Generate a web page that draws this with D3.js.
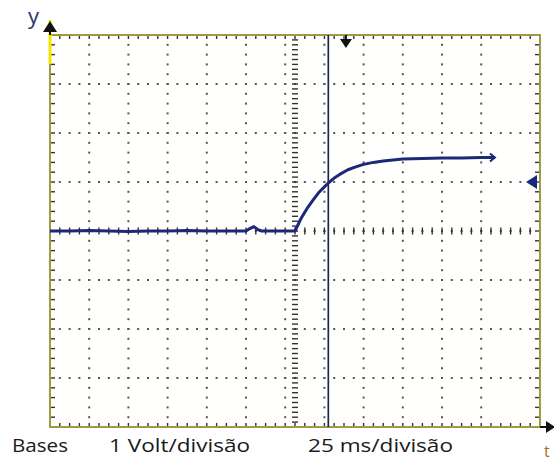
<!DOCTYPE html>
<html>
<head>
    <style>
        body { margin: 0; background: #fff; }
        .lbl { font-family: "Open Sans", sans-serif; font-size: 18px; fill: #1a1a1a; }
    </style>
    <script src="https://d3js.org/d3.v7.min.js"></script>
</head>
<body>
    <svg width="554" height="461"></svg>
    <script>
        // trace (ms, volts)
        var timeMs = [0, 10, 20, 30, 40, 50, 60, 70, 80, 90, 100, 102, 104, 106, 108, 115, 125,
                      128, 131, 134, 137, 140, 142, 145, 148, 152, 156, 160, 165, 170, 175, 180,
                      190, 200, 210, 220, 227];
        var volts = [4.0, 4.0, 4.01, 4.0, 3.99, 4.0, 4.0, 4.01, 4.0, 4.0, 4.0, 4.05, 4.09, 4.03, 4.0, 4.0, 4.0,
                     4.25, 4.45, 4.62, 4.78, 4.9, 4.98, 5.08, 5.16, 5.25, 5.31, 5.36, 5.4, 5.43, 5.45, 5.47,
                     5.48, 5.49, 5.49, 5.5, 5.5];

        var cursorMs = 142;       // vertical cursor
        var triggerMs = 151;      // trigger position marker (top)
        var triggerLevelV = 5;    // trigger level marker (right)

        var bottomLabels = ["Bases", "1 Volt/divisão", "25 ms/divisão"];
        var axisNames = ["y", "t"];

        var svg = d3.select("svg");
        var pLeft = 50, pRight = 540, pTop = 35, pBottom = 427;

        var x = d3.scaleLinear().domain([0, 250]).range([pLeft, pRight]);
        var y = d3.scaleLinear().domain([0, 8]).range([pBottom, pTop]);

        var majX = x.ticks(10), majY = y.ticks(8);
        var minX = d3.range(0, 250.01, 5), minY = d3.range(0, 8.001, 0.2);
        var midX = 125, midY = 4;

        svg.append("rect").attr("x", pLeft).attr("y", pTop)
           .attr("width", pRight - pLeft).attr("height", pBottom - pTop)
           .attr("fill", "#fffffd");

        // dotted graticule
        var dots = svg.append("g").attr("fill", "#555");
        majX.slice(1, -1).forEach(function(t) {
            minY.forEach(function(v) {
                dots.append("rect").attr("x", x(t) - 1).attr("y", y(v) - 1).attr("width", 2).attr("height", 2);
            });
        });
        majY.slice(1, -1).forEach(function(v) {
            minX.forEach(function(t) {
                dots.append("rect").attr("x", x(t) - 1).attr("y", y(v) - 1).attr("width", 2).attr("height", 2);
            });
        });

        // centre line ticks
        var ticks = svg.append("g").attr("stroke", "#333").attr("stroke-width", 1.4);
        minX.forEach(function(t) {
            ticks.append("line").attr("x1", x(t)).attr("x2", x(t)).attr("y1", y(midY) - 3.5).attr("y2", y(midY) + 3.5);
        });
        d3.range(0, 8.001, 0.1).forEach(function(v) {
            ticks.append("line").attr("x1", x(midX) - 3).attr("x2", x(midX) + 3).attr("y1", y(v)).attr("y2", y(v));
        });

        // border ticks
        minX.forEach(function(t) {
            ticks.append("line").attr("x1", x(t)).attr("x2", x(t)).attr("y1", pTop).attr("y2", pTop + 4);
            ticks.append("line").attr("x1", x(t)).attr("x2", x(t)).attr("y1", pBottom).attr("y2", pBottom - 4);
        });
        minY.forEach(function(v) {
            ticks.append("line").attr("x1", pLeft).attr("x2", pLeft + 5).attr("y1", y(v)).attr("y2", y(v));
            ticks.append("line").attr("x1", pRight).attr("x2", pRight - 5).attr("y1", y(v)).attr("y2", y(v));
        });

        svg.append("rect").attr("x", pLeft).attr("y", pTop)
           .attr("width", pRight - pLeft).attr("height", pBottom - pTop)
           .attr("fill", "none").attr("stroke", "#9c9c45").attr("stroke-width", 2);

        // yellow channel marker on the left edge
        svg.append("line").attr("x1", pLeft).attr("x2", pLeft).attr("y1", 20).attr("y2", 64)
           .attr("stroke", "#f2e600").attr("stroke-width", 3);

        // cursor
        svg.append("line").attr("x1", x(cursorMs)).attr("x2", x(cursorMs)).attr("y1", pTop).attr("y2", pBottom)
           .attr("stroke", "#1d2552").attr("stroke-width", 1.7);

        // trace
        var line = d3.line().x(function(d) { return x(d[0]); }).y(function(d) { return y(d[1]); });
        var pts = d3.zip(timeMs, volts);
        svg.append("path").datum(pts).attr("d", line)
           .attr("fill", "none").attr("stroke", "#1c2878").attr("stroke-width", 3)
           .attr("stroke-linejoin", "round");
        var last = pts[pts.length - 1];
        svg.append("path")
           .attr("d", "M" + (x(last[0]) - 5) + "," + (y(last[1]) - 4) + "l5,4l-5,4")
           .attr("fill", "none").attr("stroke", "#1c2878").attr("stroke-width", 2);

        // markers
        var tx = x(triggerMs);
        svg.append("path").attr("d", "M" + tx + "," + pTop + "v5")
           .attr("stroke", "#111").attr("stroke-width", 2);
        svg.append("path").attr("d", "M" + (tx - 6) + "," + (pTop + 4) + "L" + (tx + 6) + "," + (pTop + 4) + "L" + tx + "," + (pTop + 13) + "Z")
           .attr("fill", "#111");
        var ty = y(triggerLevelV);
        svg.append("path").attr("d", "M" + (pRight - 3) + "," + (ty - 7) + "L" + (pRight - 3) + "," + (ty + 7) + "L" + (pRight - 14) + "," + ty + "Z")
           .attr("fill", "#1c2878");

        // axis arrows
        svg.append("path").attr("d", "M" + pLeft + "," + pTop + "V26").attr("stroke", "#111").attr("stroke-width", 2);
        svg.append("path").attr("d", "M" + (pLeft - 7) + ",32L" + (pLeft + 7) + ",32L" + pLeft + ",21Z").attr("fill", "#111");
        svg.append("path").attr("d", "M" + pRight + "," + pBottom + "H548").attr("stroke", "#111").attr("stroke-width", 2);
        svg.append("path").attr("d", "M546," + (pBottom - 6) + "L546," + (pBottom + 6) + "L555," + pBottom + "Z").attr("fill", "#111");

        svg.append("text").attr("class", "lbl").attr("x", 28).attr("y", 24)
           .style("font-size", "22px").style("fill", "#2a3570").text(axisNames[0]);
        svg.append("text").attr("class", "lbl").attr("x", 544).attr("y", 457)
           .style("font-size", "16px").style("fill", "#a8701a").text(axisNames[1]);

        var labelX = [12, 109, 308], labelW = [56, 141, 145];
        bottomLabels.forEach(function(s, i) {
            svg.append("text").attr("class", "lbl").attr("x", labelX[i]).attr("y", 452)
               .attr("textLength", labelW[i]).attr("lengthAdjust", "spacingAndGlyphs").text(s);
        });
    </script>
</body>
</html>
